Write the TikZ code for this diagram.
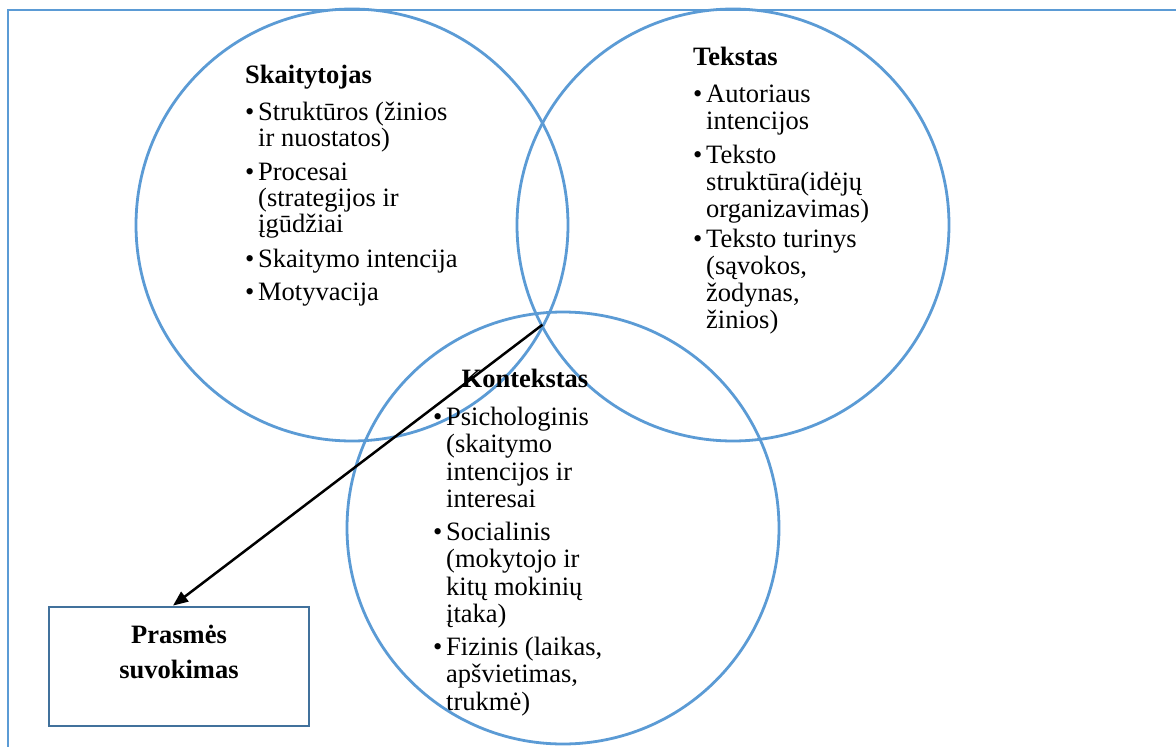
\documentclass[tikz,border=0pt]{standalone}
\usepackage{fontspec}
\setmainfont{Liberation Serif}
\usetikzlibrary{arrows.meta}
\definecolor{ringblue}{HTML}{5B9BD5}
\definecolor{boxblue}{HTML}{41719C}
% bullet of fixed width, and the matching indent for continuation lines
\newcommand{\bul}{\makebox[13pt][l]{•}}
\newcommand{\ind}{\hspace*{13pt}}
% fixed height of the first line, so a block's top sits 21pt above its first baseline
\newcommand{\firstline}{\rule{0pt}{21pt}}

\begin{document}
\begin{tikzpicture}[x=1pt,y=-1pt,
  ring/.style={circle, draw=ringblue, line width=2.8pt, inner sep=0pt, minimum size=432pt},
  listtext/.style={font=\fontsize{26.5}{#1}\selectfont, align=left, inner sep=0pt, anchor=north west},
  listtext/.default=26,
  headtext/.style={font=\fontsize{26.5}{35}\selectfont\bfseries, inner sep=0pt},
  resultbox/.style={draw=boxblue, line width=2.8pt, minimum width=260pt, minimum height=119pt},
  pointer/.style={line width=2.5pt, -{Triangle[length=15pt,width=12pt]}}
]
\useasboundingbox (0,0) rectangle (1176,747);
\fill[white] (0,0) rectangle (1176,747);

% frame lines along the top and the left side
\draw[ringblue, line width=1.3pt] (1176,10) -- (8,10) -- (8,747);

% the three overlapping circles
\node[ring] (reader)  at (352,225) {};
\node[ring] (text)    at (733,225) {};
\node[ring] (context) at (563,528) {};

% reader (first baseline at y = 120)
\node[headtext, anchor=base west] (readerhead) at (245,83) {Skaitytojas};
\node[listtext=26] (readerlist) at (245,99) {\firstline\bul Struktūros (žinios\\ \ind ir nuostatos)\\[8pt]
  \bul Procesai\\ \ind (strategijos ir\\ \ind įgūdžiai\\[9pt]
  \bul Skaitymo intencija\\[7pt]
  \bul Motyvacija};

% text (first baseline at y = 102)
\node[headtext, anchor=base west] (texthead) at (693,65) {Tekstas};
\node[listtext=27] (textlist) at (693,81) {\firstline\bul Autoriaus\\ \ind intencijos\\[7pt]
  \bul Teksto\\ \ind struktūra(idėjų\\ \ind organizavimas)\\[3pt]
  \bul Teksto turinys\\ \ind (sąvokos,\\ \ind žodynas,\\ \ind žinios)};

% context (first baseline at y = 425)
\node[listtext=27.5] (contextlist) at (433,404) {\firstline\bul Psichologinis\\ \ind (skaitymo\\ \ind intencijos ir\\ \ind interesai\\[5pt]
  \bul Socialinis\\ \ind (mokytojo ir\\ \ind kitų mokinių\\ \ind įtaka)\\[5pt]
  \bul Fizinis (laikas,\\ \ind apšvietimas,\\ \ind trukmė)};

% outcome box (first baseline at y = 643)
\node[resultbox] (meaning) at (179,666.5) {};
\node[headtext, align=center, anchor=north] (meaningtext) at (179,622) {\firstline Prasmės\\suvokimas};

% arrow from the lower meeting point of the reader and text circles
\coordinate (meet) at (542.5,324.7);
\draw[pointer] (meet) -- ([xshift=-6pt]meaning.north);

\node[headtext, anchor=base] (contexthead) at (525,387) {Kontekstas};
\end{tikzpicture}
\end{document}
